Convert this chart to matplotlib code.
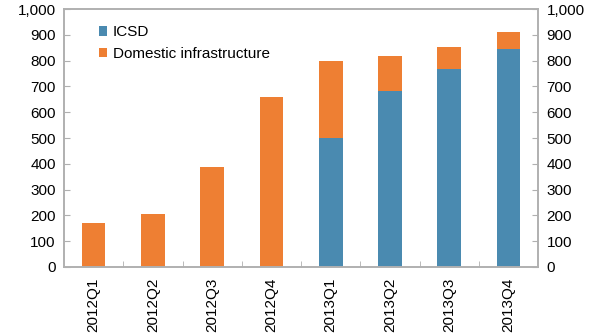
import matplotlib
matplotlib.use("Agg")
import matplotlib.pyplot as plt
import numpy as np
from matplotlib.patches import Patch

plt.rcParams['font.family'] = ['Liberation Sans', 'DejaVu Sans']

quarters = ['2012Q1', '2012Q2', '2012Q3', '2012Q4',
            '2013Q1', '2013Q2', '2013Q3', '2013Q4']
icsd = [0, 0, 0, 0, 500, 684, 767, 845]
domestic = [170, 204, 386, 658, 300, 134, 87, 65]

blue = '#4A8AB0'
orange = '#EE7F33'
grey = '#B0B0B0'

fig = plt.figure(figsize=(5.98, 3.35), dpi=100)
ax = fig.add_axes([0.107, 0.203, 0.793, 0.770])

x = np.arange(len(quarters))
ax.bar(x, icsd, width=0.4, color=blue, edgecolor='none')
ax.bar(x, domestic, width=0.4, bottom=icsd, color=orange, edgecolor='none')

ax.set_xlim(-0.5, len(quarters) - 0.5)
ax.set_ylim(0, 1000)
yt = np.arange(0, 1001, 100)
ax.set_yticks(yt)
ax.set_yticklabels([f'{v:,}' for v in yt], fontsize=11)

ax.set_xticks(x)
ax.set_xticklabels(quarters, rotation=90, fontsize=11)
ax.tick_params(axis='x', length=0, pad=8)
# category separator ticks on the bottom axis
ax.set_xticks(np.arange(0.5, len(quarters) - 0.5, 1), minor=True)
ax.tick_params(axis='x', which='minor', direction='in', length=4, color=grey)
ax.tick_params(axis='y', direction='in', length=4, color=grey, pad=6)

ax2 = ax.twinx()
ax2.set_ylim(0, 1000)
ax2.set_yticks(yt)
ax2.set_yticklabels([f'{v:,}' for v in yt], fontsize=11)
ax2.tick_params(axis='y', direction='in', length=4, color=grey, pad=6)

for a in (ax, ax2):
    for s in a.spines.values():
        s.set_color(grey)
        s.set_linewidth(1.2)

handles = [Patch(facecolor=blue, label='ICSD'),
           Patch(facecolor=orange, label='Domestic infrastructure')]
ax.legend(handles=handles, loc='upper left', bbox_to_anchor=(0.045, 0.99),
          frameon=False, fontsize=11, handlelength=0.55, handleheight=0.55,
          handletextpad=0.35, labelspacing=0.5)

fig.savefig('out.png', dpi=100)
